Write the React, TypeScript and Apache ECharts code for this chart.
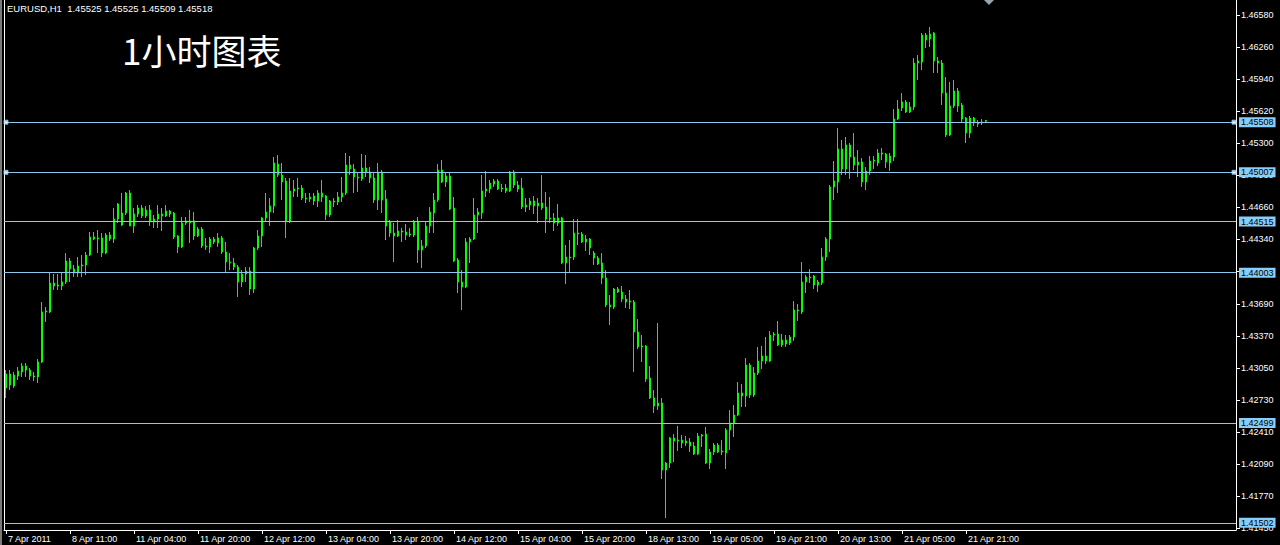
import React, { useEffect, useRef } from 'react';
import * as echarts from 'echarts';

const symbolName = 'EURUSD,H1';
const chartTitle = '1小时图表';

// Hourly bars: [open, high, low, close]
const ohlc: [number, number, number, number][] = [
  [1.4285, 1.4303, 1.4275, 1.4299], [1.4299, 1.4303, 1.4283, 1.4288], [1.4287, 1.4301, 1.4285, 1.4298], [1.4297, 1.4306, 1.4293, 1.4302],
  [1.4301, 1.4310, 1.4296, 1.4307], [1.4307, 1.4310, 1.4296, 1.4303], [1.4303, 1.4305, 1.4293, 1.4297], [1.4297, 1.4301, 1.4292, 1.4296],
  [1.4296, 1.4314, 1.4290, 1.4311], [1.4311, 1.4371, 1.4310, 1.4361], [1.4361, 1.4366, 1.4351, 1.4362], [1.4361, 1.4401, 1.4360, 1.4390],
  [1.4390, 1.4399, 1.4383, 1.4387], [1.4387, 1.4399, 1.4383, 1.4388], [1.4387, 1.4401, 1.4383, 1.4391], [1.4391, 1.4420, 1.4389, 1.4412],
  [1.4412, 1.4415, 1.4391, 1.4404], [1.4404, 1.4408, 1.4396, 1.4400], [1.4400, 1.4416, 1.4396, 1.4407], [1.4407, 1.4418, 1.4396, 1.4408],
  [1.4408, 1.4421, 1.4398, 1.4418], [1.4418, 1.4441, 1.4417, 1.4436], [1.4436, 1.4441, 1.4433, 1.4434], [1.4434, 1.4443, 1.4420, 1.4435],
  [1.4435, 1.4440, 1.4416, 1.4420], [1.4420, 1.4440, 1.4419, 1.4438], [1.4438, 1.4441, 1.4432, 1.4434], [1.4434, 1.4465, 1.4430, 1.4454],
  [1.4454, 1.4470, 1.4450, 1.4469], [1.4460, 1.4480, 1.4447, 1.4448], [1.4460, 1.4481, 1.4458, 1.4480], [1.4480, 1.4483, 1.4447, 1.4447],
  [1.4447, 1.4465, 1.4440, 1.4459], [1.4459, 1.4468, 1.4456, 1.4465], [1.4465, 1.4468, 1.4455, 1.4457], [1.4457, 1.4467, 1.4455, 1.4463],
  [1.4463, 1.4468, 1.4447, 1.4451], [1.4451, 1.4458, 1.4445, 1.4454], [1.4454, 1.4468, 1.4445, 1.4459], [1.4459, 1.4465, 1.4442, 1.4457],
  [1.4457, 1.4468, 1.4456, 1.4462], [1.4462, 1.4463, 1.4456, 1.4459], [1.4460, 1.4461, 1.4434, 1.4436], [1.4437, 1.4438, 1.4420, 1.4426],
  [1.4426, 1.4456, 1.4425, 1.4450], [1.4450, 1.4456, 1.4448, 1.4452], [1.4452, 1.4463, 1.4430, 1.4450], [1.4452, 1.4461, 1.4433, 1.4437],
  [1.4437, 1.4446, 1.4436, 1.4444], [1.4444, 1.4446, 1.4425, 1.4427], [1.4427, 1.4435, 1.4423, 1.4426], [1.4426, 1.4436, 1.4420, 1.4434],
  [1.4434, 1.4436, 1.4429, 1.4431], [1.4430, 1.4440, 1.4426, 1.4435], [1.4435, 1.4437, 1.4419, 1.4421], [1.4421, 1.4431, 1.4400, 1.4411],
  [1.4411, 1.4420, 1.4403, 1.4410], [1.4410, 1.4415, 1.4403, 1.4406], [1.4406, 1.4408, 1.4376, 1.4391], [1.4391, 1.4403, 1.4386, 1.4399],
  [1.4399, 1.4406, 1.4391, 1.4402], [1.4402, 1.4406, 1.4378, 1.4384], [1.4384, 1.4426, 1.4380, 1.4425], [1.4425, 1.4443, 1.4423, 1.4437],
  [1.4437, 1.4456, 1.4426, 1.4455], [1.4455, 1.4480, 1.4451, 1.4461], [1.4461, 1.4475, 1.4447, 1.4467], [1.4467, 1.4516, 1.4460, 1.4510],
  [1.4509, 1.4518, 1.4496, 1.4498], [1.4498, 1.4510, 1.4473, 1.4491], [1.4492, 1.4495, 1.4435, 1.4452], [1.4452, 1.4495, 1.4450, 1.4482],
  [1.4482, 1.4493, 1.4476, 1.4484], [1.4484, 1.4495, 1.4476, 1.4485], [1.4485, 1.4488, 1.4473, 1.4475], [1.4475, 1.4480, 1.4470, 1.4474],
  [1.4474, 1.4480, 1.4471, 1.4476], [1.4477, 1.4480, 1.4468, 1.4472], [1.4472, 1.4483, 1.4466, 1.4480], [1.4480, 1.4493, 1.4471, 1.4476],
  [1.4477, 1.4478, 1.4453, 1.4458], [1.4458, 1.4473, 1.4456, 1.4472], [1.4472, 1.4475, 1.4466, 1.4471], [1.4471, 1.4481, 1.4468, 1.4476],
  [1.4476, 1.4496, 1.4471, 1.4480], [1.4480, 1.4520, 1.4478, 1.4508], [1.4508, 1.4517, 1.4498, 1.4504], [1.4504, 1.4509, 1.4480, 1.4496],
  [1.4496, 1.4501, 1.4481, 1.4495], [1.4494, 1.4519, 1.4492, 1.4505], [1.4505, 1.4518, 1.4496, 1.4501], [1.4501, 1.4506, 1.4490, 1.4495],
  [1.4495, 1.4500, 1.4470, 1.4473], [1.4473, 1.4510, 1.4463, 1.4501], [1.4501, 1.4503, 1.4460, 1.4473], [1.4474, 1.4483, 1.4433, 1.4447],
  [1.4451, 1.4453, 1.4436, 1.4440], [1.4440, 1.4450, 1.4411, 1.4437], [1.4437, 1.4453, 1.4436, 1.4442], [1.4442, 1.4445, 1.4431, 1.4441],
  [1.4441, 1.4449, 1.4433, 1.4438], [1.4438, 1.4445, 1.4436, 1.4439], [1.4438, 1.4453, 1.4436, 1.4451], [1.4451, 1.4456, 1.4410, 1.4423],
  [1.4423, 1.4433, 1.4405, 1.4427], [1.4427, 1.4451, 1.4425, 1.4447], [1.4447, 1.4466, 1.4440, 1.4461], [1.4460, 1.4480, 1.4440, 1.4473],
  [1.4473, 1.4509, 1.4471, 1.4503], [1.4503, 1.4513, 1.4490, 1.4491], [1.4491, 1.4500, 1.4486, 1.4497], [1.4497, 1.4501, 1.4463, 1.4464],
  [1.4465, 1.4476, 1.4411, 1.4412], [1.4413, 1.4415, 1.4380, 1.4391], [1.4391, 1.4403, 1.4363, 1.4386], [1.4386, 1.4435, 1.4385, 1.4431],
  [1.4431, 1.4436, 1.4410, 1.4434], [1.4434, 1.4475, 1.4433, 1.4458], [1.4458, 1.4465, 1.4440, 1.4461], [1.4460, 1.4498, 1.4454, 1.4482],
  [1.4482, 1.4502, 1.4476, 1.4484], [1.4484, 1.4493, 1.4480, 1.4490], [1.4489, 1.4494, 1.4486, 1.4492], [1.4492, 1.4494, 1.4483, 1.4484],
  [1.4484, 1.4489, 1.4481, 1.4485], [1.4485, 1.4489, 1.4480, 1.4482], [1.4482, 1.4502, 1.4481, 1.4501], [1.4501, 1.4503, 1.4485, 1.4488],
  [1.4488, 1.4492, 1.4481, 1.4484], [1.4485, 1.4495, 1.4464, 1.4466], [1.4466, 1.4475, 1.4461, 1.4468], [1.4468, 1.4475, 1.4463, 1.4472],
  [1.4472, 1.4477, 1.4459, 1.4467], [1.4467, 1.4475, 1.4450, 1.4470], [1.4470, 1.4498, 1.4463, 1.4465], [1.4466, 1.4481, 1.4440, 1.4454],
  [1.4454, 1.4476, 1.4450, 1.4455], [1.4455, 1.4460, 1.4442, 1.4450], [1.4450, 1.4469, 1.4447, 1.4455], [1.4455, 1.4456, 1.4409, 1.4410],
  [1.4410, 1.4428, 1.4389, 1.4416], [1.4416, 1.4433, 1.4400, 1.4415], [1.4416, 1.4454, 1.4413, 1.4440], [1.4440, 1.4454, 1.4428, 1.4439],
  [1.4439, 1.4441, 1.4430, 1.4431], [1.4431, 1.4438, 1.4422, 1.4434], [1.4434, 1.4435, 1.4418, 1.4425], [1.4420, 1.4422, 1.4408, 1.4415],
  [1.4415, 1.4417, 1.4408, 1.4409], [1.4410, 1.4420, 1.4389, 1.4395], [1.4395, 1.4403, 1.4366, 1.4368], [1.4368, 1.4378, 1.4348, 1.4366],
  [1.4366, 1.4385, 1.4364, 1.4384], [1.4384, 1.4386, 1.4380, 1.4381], [1.4381, 1.4387, 1.4371, 1.4374], [1.4374, 1.4378, 1.4365, 1.4371],
  [1.4371, 1.4383, 1.4364, 1.4372], [1.4371, 1.4373, 1.4301, 1.4341], [1.4341, 1.4354, 1.4324, 1.4326], [1.4326, 1.4338, 1.4311, 1.4327],
  [1.4327, 1.4328, 1.4291, 1.4294], [1.4295, 1.4307, 1.4274, 1.4275], [1.4275, 1.4283, 1.4260, 1.4267], [1.4267, 1.4350, 1.4263, 1.4270],
  [1.4270, 1.4275, 1.4194, 1.4203], [1.4203, 1.4211, 1.4155, 1.4210], [1.4210, 1.4236, 1.4205, 1.4235], [1.4235, 1.4239, 1.4211, 1.4232],
  [1.4232, 1.4247, 1.4222, 1.4233], [1.4233, 1.4238, 1.4225, 1.4230], [1.4230, 1.4237, 1.4227, 1.4232], [1.4231, 1.4235, 1.4221, 1.4227],
  [1.4227, 1.4231, 1.4218, 1.4219], [1.4219, 1.4240, 1.4218, 1.4237], [1.4237, 1.4239, 1.4226, 1.4238], [1.4239, 1.4246, 1.4209, 1.4210],
  [1.4210, 1.4224, 1.4204, 1.4221], [1.4221, 1.4230, 1.4218, 1.4228], [1.4228, 1.4230, 1.4220, 1.4221], [1.4221, 1.4233, 1.4218, 1.4222],
  [1.4220, 1.4245, 1.4204, 1.4243], [1.4243, 1.4263, 1.4223, 1.4250], [1.4250, 1.4268, 1.4236, 1.4258], [1.4258, 1.4291, 1.4257, 1.4280],
  [1.4280, 1.4289, 1.4266, 1.4277], [1.4277, 1.4315, 1.4266, 1.4308], [1.4308, 1.4310, 1.4275, 1.4278], [1.4278, 1.4306, 1.4276, 1.4300],
  [1.4300, 1.4326, 1.4298, 1.4312], [1.4312, 1.4327, 1.4304, 1.4317], [1.4317, 1.4336, 1.4309, 1.4312], [1.4312, 1.4342, 1.4311, 1.4338],
  [1.4338, 1.4341, 1.4332, 1.4339], [1.4339, 1.4352, 1.4327, 1.4328], [1.4328, 1.4339, 1.4326, 1.4333], [1.4333, 1.4338, 1.4326, 1.4329],
  [1.4330, 1.4338, 1.4328, 1.4336], [1.4336, 1.4372, 1.4332, 1.4363], [1.4363, 1.4369, 1.4352, 1.4362], [1.4361, 1.4411, 1.4359, 1.4391],
  [1.4391, 1.4398, 1.4380, 1.4396], [1.4395, 1.4404, 1.4390, 1.4396], [1.4397, 1.4398, 1.4384, 1.4388], [1.4388, 1.4393, 1.4381, 1.4391],
  [1.4390, 1.4425, 1.4388, 1.4416], [1.4416, 1.4436, 1.4412, 1.4434], [1.4434, 1.4488, 1.4421, 1.4486], [1.4486, 1.4512, 1.4473, 1.4492],
  [1.4491, 1.4545, 1.4480, 1.4524], [1.4524, 1.4533, 1.4498, 1.4504], [1.4504, 1.4536, 1.4498, 1.4528], [1.4528, 1.4530, 1.4494, 1.4516],
  [1.4516, 1.4540, 1.4503, 1.4508], [1.4508, 1.4523, 1.4496, 1.4511], [1.4511, 1.4515, 1.4486, 1.4491], [1.4491, 1.4506, 1.4483, 1.4502],
  [1.4502, 1.4517, 1.4498, 1.4512], [1.4512, 1.4517, 1.4504, 1.4513], [1.4510, 1.4524, 1.4507, 1.4520], [1.4520, 1.4525, 1.4513, 1.4519],
  [1.4519, 1.4520, 1.4505, 1.4511], [1.4510, 1.4520, 1.4502, 1.4517], [1.4516, 1.4564, 1.4512, 1.4554], [1.4554, 1.4573, 1.4553, 1.4564],
  [1.4565, 1.4580, 1.4562, 1.4571], [1.4571, 1.4573, 1.4560, 1.4561], [1.4561, 1.4571, 1.4560, 1.4566], [1.4566, 1.4615, 1.4563, 1.4610],
  [1.4610, 1.4618, 1.4593, 1.4612], [1.4611, 1.4640, 1.4603, 1.4638], [1.4638, 1.4640, 1.4625, 1.4633], [1.4634, 1.4646, 1.4626, 1.4639],
  [1.4640, 1.4641, 1.4600, 1.4612], [1.4612, 1.4616, 1.4600, 1.4610], [1.4610, 1.4613, 1.4568, 1.4580], [1.4580, 1.4596, 1.4536, 1.4538],
  [1.4538, 1.4591, 1.4537, 1.4567], [1.4567, 1.4593, 1.4565, 1.4582], [1.4582, 1.4585, 1.4561, 1.4567], [1.4568, 1.4570, 1.4551, 1.4554],
  [1.4555, 1.4556, 1.4530, 1.4540], [1.4540, 1.4557, 1.4535, 1.4555], [1.4555, 1.4556, 1.4547, 1.4550], [1.4550, 1.4553, 1.4546, 1.4549],
  [1.4550, 1.4554, 1.4548, 1.4551], [1.45525, 1.45525, 1.45509, 1.45518],
];

const timeLabels = [
  '7 Apr 2011', '8 Apr 11:00', '11 Apr 04:00', '11 Apr 20:00', '12 Apr 12:00', '13 Apr 04:00', '13 Apr 20:00', '14 Apr 12:00',
  '15 Apr 04:00', '15 Apr 20:00', '18 Apr 13:00', '19 Apr 05:00', '19 Apr 21:00', '20 Apr 13:00', '21 Apr 05:00', '21 Apr 21:00',
];
const labelEvery = 16;
const slotCount = 308;

const priceTicks = [
  1.4145, 1.4177, 1.4209, 1.4241, 1.4273, 1.4305, 1.4337, 1.4369, 1.4402, 1.4434, 1.4466, 1.4498, 1.453, 1.4562, 1.4594, 1.4626, 1.4658,
];
const yMin = 1.4143;
const yMax = 1.4673;

const levelLines = [1.45508, 1.45007, 1.44515, 1.44003, 1.42499, 1.41502];
const selectedLines = [1.45508, 1.45007];

const LINE_BLUE = '#8ec8ee';
const LABEL_BLUE = '#87cefa';
const FONT = 'Liberation Sans';

export default function App() {
  const ref = useRef<HTMLDivElement>(null);

  useEffect(() => {
    if (!ref.current) return;
    const chart = echarts.init(ref.current, undefined, { renderer: 'svg' });
    const categories = Array.from({ length: slotCount }, (_, i) =>
      i % labelEvery === 0 ? timeLabels[i / labelEvery] ?? '' : ''
    );
    const showAt = (i: number) => i % labelEvery === 0 && i / labelEvery < timeLabels.length;
    const last = ohlc[ohlc.length - 1];

    chart.setOption({
      animation: false,
      backgroundColor: '#000',
      textStyle: { fontFamily: FONT },
      title: [
        {
          text: `${symbolName}  ${last.map((v) => v.toFixed(5)).join(' ')}`,
          left: 7,
          top: 3,
          padding: 0,
          textStyle: { color: '#fff', fontSize: 9.5, fontWeight: 'normal', fontFamily: FONT },
        },
        {
          text: chartTitle,
          left: 122,
          top: 32,
          padding: 0,
          textStyle: { color: '#fff', fontSize: 35, fontWeight: 'normal', fontFamily: 'Noto Sans CJK SC' },
        },
      ],
      grid: { left: 4, right: 44, top: 0, bottom: 15, containLabel: false },
      xAxis: {
        type: 'category',
        data: categories,
        boundaryGap: true,
        axisLine: { show: true, onZero: false, lineStyle: { color: '#fff', width: 1 } },
        axisTick: {
          show: true,
          interval: (i: number) => showAt(i),
          alignWithLabel: true,
          length: 4,
          lineStyle: { color: '#fff' },
        },
        axisLabel: {
          interval: (i: number) => showAt(i),
          color: '#fff',
          fontSize: 9,
          fontFamily: FONT,
          align: 'left',
          margin: 4,
          padding: [0, 0, 0, 2],
        },
        splitLine: { show: false },
      },
      yAxis: [
        {
          type: 'value',
          position: 'right',
          min: yMin,
          max: yMax,
          scale: true,
          splitLine: { show: false },
          axisLine: { show: true, lineStyle: { color: '#fff' } },
          axisTick: { show: true, customValues: priceTicks, length: 4, lineStyle: { color: '#fff' } },
          axisLabel: {
            customValues: priceTicks,
            formatter: (v: number) => v.toFixed(5),
            color: '#fff',
            fontSize: 9,
            fontFamily: FONT,
            margin: 5,
          },
        },
        {
          type: 'value',
          position: 'left',
          min: yMin,
          max: yMax,
          scale: true,
          axisLine: { show: true, lineStyle: { color: '#fff' } },
          axisTick: { show: false },
          axisLabel: { show: false },
          splitLine: { show: false },
        },
      ],
      series: [
        {
          type: 'candlestick',
          data: ohlc.map(([o, h, l, c]) => [o, c, l, h]),
          barWidth: 2,
          itemStyle: {
            color: '#000000',
            color0: '#ffffff',
            borderColor: '#00ff00',
            borderColor0: '#00ff00',
            borderColorDoji: '#00ff00',
            borderWidth: 1,
          },
          emphasis: { disabled: true },
          markLine: {
            silent: true,
            symbol: 'none',
            precision: 5,
            animation: false,
            lineStyle: { color: LINE_BLUE, width: 1, type: 'solid' },
            label: {
              show: true,
              position: 'end',
              distance: 3,
              formatter: (p: any) => Number(p.value).toFixed(5),
              backgroundColor: LABEL_BLUE,
              color: '#000',
              fontSize: 9,
              fontFamily: FONT,
              padding: [1, 2, 0, 2],
            },
            emphasis: { disabled: true },
            data: levelLines.map((v) => ({ yAxis: v })),
          },
        },
        {
          type: 'scatter',
          symbol: 'rect',
          symbolSize: 4,
          z: 5,
          silent: true,
          itemStyle: { color: '#ffffff', borderColor: LINE_BLUE, borderWidth: 1 },
          data: selectedLines.flatMap((v) => [
            [0, v],
            [slotCount - 1, v],
          ]),
        },
      ],
      graphic: [
        { type: 'rect', shape: { x: 0, y: 0, width: 2, height: 545 }, style: { fill: '#7a7a7a' }, silent: true },
        {
          type: 'polygon',
          shape: { points: [[984, 0], [994, 0], [989, 5]] },
          style: { fill: '#9aa4ae' },
          silent: true,
        },
      ],
    });

    return () => chart.dispose();
  }, []);

  return (
    <div
      ref={ref}
      style={{ position: 'fixed', left: 0, top: 0, width: 1280, height: 545, background: '#000' }}
    />
  );
}
